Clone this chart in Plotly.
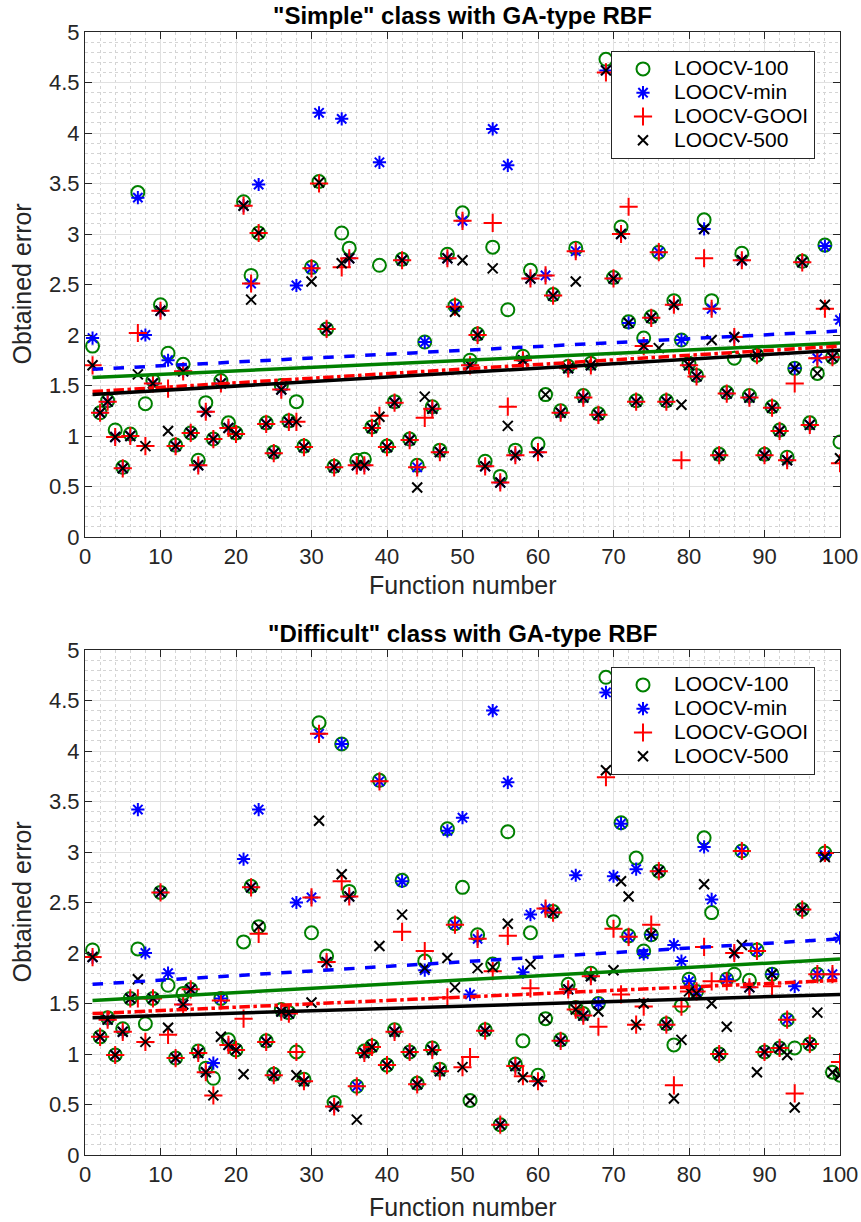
import plotly.graph_objects as go

func_num = list(range(1, 101))

# ---- "Simple" class ----
s_loocv100 = [1.89,1.23,1.35,1.06,0.69,1.02,3.41,1.32,1.55,2.30,
              1.82,0.91,1.71,1.03,0.76,1.33,0.97,1.55,1.13,1.03,
              3.32,2.59,3.01,1.13,0.84,1.50,1.15,1.34,0.90,2.67,
              3.52,2.06,0.70,3.01,2.86,0.76,0.77,1.09,2.69,0.90,
              1.34,2.75,0.97,0.71,1.93,1.29,0.86,2.80,2.29,3.21,
              1.75,2.01,0.75,2.87,0.60,2.25,0.86,1.79,2.64,0.92,
              1.41,2.40,1.25,1.69,2.86,1.40,1.72,1.22,4.73,2.57,
              3.07,2.13,1.35,1.97,2.18,2.82,1.35,2.34,1.95,1.72,
              1.60,3.14,2.34,0.82,1.43,1.77,2.81,1.40,1.80,0.82,
              1.29,1.06,0.79,1.67,2.73,1.13,1.62,2.89,1.78,0.94]
s_loocvmin = [1.97,1.23,1.34,0.99,0.68,1.00,3.36,2.00,1.52,2.24,
              1.75,0.90,1.64,1.03,0.71,1.24,0.97,1.52,1.08,1.02,
              3.28,2.51,3.49,1.12,0.83,1.46,1.14,2.49,0.89,2.66,
              4.20,2.06,0.69,4.14,2.76,0.71,0.71,1.08,3.71,0.89,
              1.33,2.74,0.96,0.69,1.93,1.27,0.84,2.76,2.28,3.13,
              1.70,2.00,0.70,4.04,0.54,3.68,0.81,1.75,2.56,0.84,
              2.59,2.39,1.23,1.67,2.83,1.38,1.70,1.21,4.62,2.56,
              3.00,2.12,1.34,1.89,2.17,2.82,1.34,2.30,1.95,1.70,
              1.59,3.05,2.26,0.81,1.42,1.98,2.74,1.38,1.80,0.81,
              1.28,1.05,0.76,1.67,2.72,1.11,1.77,2.88,1.78,2.15]
s_loocvgooi = [1.70,1.23,1.34,0.99,0.68,1.00,2.02,0.90,1.52,2.24,
               1.47,0.90,1.64,1.03,0.71,1.24,0.97,1.52,1.08,1.02,
               3.28,2.51,3.01,1.12,0.83,1.46,1.14,1.14,0.89,2.66,
               3.50,2.06,0.69,2.67,2.76,0.71,0.71,1.08,1.20,0.89,
               1.33,2.74,0.96,0.69,1.18,1.27,0.84,2.76,2.28,3.13,
               1.70,2.00,0.70,3.11,0.54,1.29,0.81,1.75,2.56,0.84,
               2.59,2.39,1.23,1.67,2.83,1.38,1.70,1.21,4.60,2.56,
               3.00,3.27,1.34,1.89,2.17,2.82,1.34,2.30,0.76,1.70,
               1.59,2.76,2.26,0.81,1.42,1.98,2.74,1.38,1.80,0.81,
               1.28,1.05,0.76,1.52,2.72,1.11,1.77,2.26,1.78,0.73]
s_loocv500 = [1.70,1.23,1.34,0.99,0.68,1.00,1.61,0.90,1.52,2.24,
              1.05,0.90,1.64,1.03,0.71,1.24,0.97,1.52,1.08,1.02,
              3.28,2.35,3.01,1.12,0.83,1.46,1.14,1.14,0.89,2.53,
              3.51,2.06,0.69,2.71,2.76,0.71,0.71,1.08,1.19,0.89,
              1.33,2.74,0.96,0.49,1.39,1.27,0.84,2.76,2.23,2.74,
              1.70,2.00,0.70,2.66,0.54,1.10,0.81,1.75,2.56,0.84,
              1.41,2.39,1.23,1.67,2.53,1.38,1.70,1.21,4.62,2.56,
              3.00,2.12,1.34,1.89,2.17,1.87,1.34,2.30,1.31,1.70,
              1.59,3.05,1.95,0.81,1.42,1.98,2.74,1.38,1.80,0.81,
              1.28,1.05,0.76,1.67,2.72,1.11,1.62,2.30,1.78,0.78]

# ---- "Difficult" class ----
d_loocv100 = [2.03,1.17,1.36,0.99,1.25,1.55,2.04,1.30,1.55,2.60,
              1.68,0.96,1.60,1.64,1.03,0.86,0.76,1.55,1.14,1.04,
              2.11,2.66,2.26,1.13,0.80,1.44,1.41,1.02,0.75,2.20,
              4.28,1.97,0.52,4.07,2.61,0.68,1.03,1.08,3.71,0.89,
              1.24,2.72,1.02,0.71,1.92,1.06,0.85,3.23,2.29,2.65,
              0.54,2.18,1.24,1.89,0.30,3.20,0.90,1.13,2.20,0.79,
              1.35,2.41,1.14,1.69,1.46,1.40,1.80,1.50,4.73,2.31,
              3.29,2.17,2.94,2.02,2.18,2.81,1.30,1.09,1.48,1.74,
              1.62,3.14,2.40,1.00,1.74,1.79,3.01,1.73,2.03,1.02,
              1.79,1.06,1.34,1.06,2.43,1.10,1.79,2.99,0.82,0.79]
d_loocvmin = [1.96,1.17,1.34,0.99,1.22,1.55,3.42,2.00,1.55,2.60,
              1.80,0.96,1.49,1.64,1.01,0.82,0.91,1.55,1.09,1.04,
              2.93,2.65,3.42,1.12,0.79,1.42,1.40,2.50,0.73,2.55,
              4.17,1.91,0.48,4.07,2.56,0.68,1.01,1.07,3.70,0.89,
              1.22,2.71,1.02,0.70,1.83,1.04,0.83,3.21,2.28,3.34,
              1.59,2.14,1.23,4.40,0.30,3.69,0.88,1.81,2.38,0.73,
              2.44,2.40,1.13,1.64,2.77,1.38,1.77,1.50,4.58,2.76,
              3.28,2.16,2.83,1.99,2.18,2.81,1.29,2.08,1.92,1.72,
              1.62,3.05,2.53,1.00,1.74,2.00,3.01,1.66,2.02,1.02,
              1.79,1.06,1.34,1.67,2.43,1.10,1.79,2.97,1.79,2.15]
d_loocvgooi = [1.96,1.17,1.34,0.99,1.22,1.55,1.55,1.12,1.55,2.60,
               1.19,0.96,1.49,1.64,1.01,0.82,0.59,1.53,1.09,1.04,
               1.35,2.65,2.19,1.12,0.79,1.42,1.40,1.02,0.73,2.55,
               4.17,1.91,0.48,2.71,2.56,0.68,1.01,1.07,3.70,0.89,
               1.22,2.21,1.02,0.70,2.02,1.04,0.83,1.56,2.28,0.87,
               0.97,2.14,1.23,1.82,0.30,2.17,0.88,0.78,1.65,0.73,
               2.44,2.40,1.13,1.64,1.44,1.38,1.77,1.27,3.74,2.24,
               1.59,2.16,1.29,1.47,2.28,2.81,1.29,0.69,1.47,1.62,
               1.62,2.06,1.72,1.00,1.72,2.00,3.01,1.66,2.02,1.02,
               1.67,1.06,1.34,0.61,2.43,1.10,1.79,2.99,1.79,0.92]
d_loocv500 = [1.96,1.17,1.34,0.99,1.22,1.55,1.74,1.12,1.55,2.60,
              1.26,0.96,1.49,1.64,1.01,0.82,0.59,1.17,1.09,1.04,
              0.80,2.65,2.26,1.12,0.79,1.42,1.40,0.79,0.73,1.51,
              3.31,1.91,0.48,2.78,2.56,0.35,1.01,1.07,2.07,0.89,
              1.22,2.38,1.02,0.70,1.85,1.04,0.83,1.95,1.66,0.87,
              0.54,1.85,1.23,1.86,0.30,2.29,0.88,0.77,1.89,0.73,
              1.35,2.40,1.13,1.64,1.44,1.38,1.77,1.42,3.81,1.83,
              2.71,2.56,1.29,1.50,2.18,2.81,1.29,0.56,1.14,1.62,
              1.60,2.68,1.50,1.00,1.27,2.00,2.08,1.66,0.82,1.02,
              1.79,1.06,0.99,0.47,2.43,1.10,1.41,2.95,0.82,0.79]

# trend lines (value at function 1 and at function 100)
trend_x = [1, 100]
s_trend = {"LOOCV-100": [1.58, 1.92], "LOOCV-min": [1.66, 2.04],
           "LOOCV-GOOI": [1.44, 1.89], "LOOCV-500": [1.41, 1.85]}
d_trend = {"LOOCV-100": [1.53, 1.94], "LOOCV-min": [1.69, 2.14],
           "LOOCV-GOOI": [1.40, 1.73], "LOOCV-500": [1.36, 1.59]}

titles = ['"Simple" class with GA-type RBF', '"Difficult" class with GA-type RBF']
x_label = "Function number"
y_label = "Obtained error"
x_ticks = [0, 10, 20, 30, 40, 50, 60, 70, 80, 90, 100]
y_ticks = [0, 0.5, 1, 1.5, 2, 2.5, 3, 3.5, 4, 4.5, 5]
y_ticktext = ["0", "0.5", "1", "1.5", "2", "2.5", "3", "3.5", "4", "4.5", "5"]
series_names = ["LOOCV-100", "LOOCV-min", "LOOCV-GOOI", "LOOCV-500"]

GREEN = "rgb(0,128,0)"
BLUE = "rgb(0,0,255)"
RED = "rgb(255,0,0)"
BLACK = "rgb(0,0,0)"

styles = {
    "LOOCV-100": dict(symbol="circle-open", size=13, color=GREEN, width=2),
    "LOOCV-min": dict(symbol="asterisk-open", size=11, color=BLUE, width=2),
    "LOOCV-GOOI": dict(symbol="cross-thin-open", size=13, color=RED, width=2),
    "LOOCV-500": dict(symbol="x-thin-open", size=10, color=BLACK, width=2),
}
line_styles = {
    "LOOCV-100": dict(color=GREEN, dash="solid"),
    "LOOCV-min": dict(color=BLUE, dash="dash"),
    "LOOCV-GOOI": dict(color=RED, dash="dashdot"),
    "LOOCV-500": dict(color=BLACK, dash="solid"),
}

panels = [
    ([s_loocv100, s_loocvmin, s_loocvgooi, s_loocv500], s_trend, "x", "y", "legend"),
    ([d_loocv100, d_loocvmin, d_loocvgooi, d_loocv500], d_trend, "x2", "y2", "legend2"),
]

FONT = "Liberation Sans, Arial, Helvetica, sans-serif"
AX = "rgb(38,38,38)"

fig = go.Figure()
for series, trend, xa, ya, leg in panels:
    for name, vals in zip(series_names, series):
        st = styles[name]
        fig.add_trace(go.Scatter(
            x=func_num, y=vals, mode="markers",
            name='<span style="font-size:21px">' + name + '</span>',
            legend=leg, xaxis=xa, yaxis=ya,
            marker=dict(symbol=st["symbol"], size=st["size"], color=st["color"],
                        line=dict(color=st["color"], width=st["width"]))))
    for name in series_names:
        ls = line_styles[name]
        fig.add_trace(go.Scatter(
            x=trend_x, y=trend[name], mode="lines", showlegend=False,
            xaxis=xa, yaxis=ya, hoverinfo="skip",
            line=dict(color=ls["color"], dash=ls["dash"], width=3.5)))


def xaxis_cfg(anchor):
    return dict(range=[0, 100], tickvals=x_ticks, anchor=anchor, automargin=False,
                showline=True, linecolor=AX, linewidth=1, mirror="allticks",
                ticks="inside", ticklen=7, tickcolor=AX,
                showgrid=True, gridcolor="rgb(225,225,225)", gridwidth=1,
                zeroline=False,
                minor=dict(dtick=2, showgrid=True, gridcolor="rgb(212,212,212)",
                           griddash="dot", gridwidth=1, ticks=""),
                tickfont=dict(family=FONT, size=22, color=AX))


def yaxis_cfg(anchor, domain):
    return dict(range=[0, 5], tickvals=y_ticks, ticktext=y_ticktext, anchor=anchor,
                domain=domain, automargin=False,
                showline=True, linecolor=AX, linewidth=1, mirror="allticks",
                ticks="inside", ticklen=7, tickcolor=AX,
                showgrid=True, gridcolor="rgb(225,225,225)", gridwidth=1,
                zeroline=False,
                minor=dict(dtick=0.1, showgrid=True, gridcolor="rgb(212,212,212)",
                           griddash="dot", gridwidth=1, ticks=""),
                tickfont=dict(family=FONT, size=22, color=AX))


top_dom = [(1155 - 537) / 1123, 1.0]
bot_dom = [0.0, (1155 - 650) / 1123]

legend_common = dict(bgcolor="white", bordercolor=AX, borderwidth=1,
                     font=dict(family=FONT, size=16, color="black"),
                     xanchor="left", yanchor="top", x=(611 - 85) / 755,
                     itemwidth=52, tracegroupgap=0)

annotations = []
for title, dom, xlab_shift in [(titles[0], top_dom, 48), (titles[1], bot_dom, 52)]:
    annotations.append(dict(text="<b>" + title + "</b>", xref="paper", yref="paper",
                            x=0.5, y=dom[1], yanchor="middle", showarrow=False, yshift=17,
                            font=dict(family=FONT, size=24, color="black")))
    annotations.append(dict(text=x_label, xref="paper", yref="paper",
                            x=0.5, y=dom[0], yanchor="middle", showarrow=False,
                            yshift=-xlab_shift,
                            font=dict(family=FONT, size=25, color=AX)))
    annotations.append(dict(text=y_label, xref="paper", yref="paper",
                            x=0, y=(dom[0] + dom[1]) / 2, xanchor="center", yanchor="middle",
                            showarrow=False, xshift=-64, textangle=-90,
                            font=dict(family=FONT, size=25, color=AX)))

fig.update_layout(
    width=861, height=1222,
    margin=dict(l=85, r=21, t=32, b=67),
    paper_bgcolor="white", plot_bgcolor="white",
    showlegend=True,
    xaxis=xaxis_cfg("y"), yaxis=yaxis_cfg("x", top_dom),
    xaxis2=xaxis_cfg("y2"), yaxis2=yaxis_cfg("x2", bot_dom),
    legend=dict(**legend_common, y=(1155 - 51) / 1123),
    legend2=dict(**legend_common, y=(1155 - 667) / 1123),
    annotations=annotations,
)

fig.write_html("out.html", config={"displayModeBar": False},
               post_script="document.body.style.margin='0';")
